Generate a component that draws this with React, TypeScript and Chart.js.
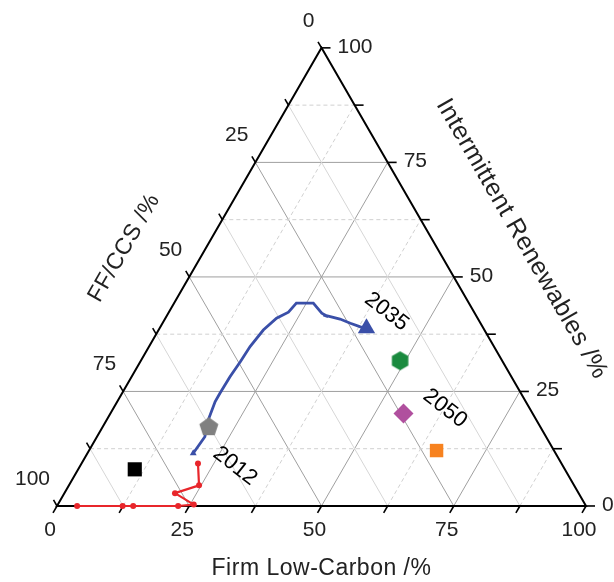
import React, { useEffect, useRef } from 'react';
import { Chart, registerables } from 'chart.js';

Chart.register(...registerables);

// ---- axis ticks ----
const majorTicks = [0, 25, 50, 75, 100];
const minorTicks = [12.5, 37.5, 62.5, 87.5];
const majorTickLabels = ['0', '25', '50', '75', '100'];

const bottomTitle = 'Firm Low-Carbon /%';
const leftTitle = 'FF/CCS /%';
const rightTitle = 'Intermittent Renewables /%';

// ---- red series (firm low-carbon %, intermittent renewables %) ----
const redFirm = [3.8, 12.4, 14.4, 22.9, 25.7, 20.9, 24.6, 22.0];
const redRenew = [0, 0, 0, 0, 0.3, 2.8, 4.5, 9.3];

// ---- blue series ----
const blueFirm = [20.0, 20.4, 19.2, 18.5, 18.5, 18.6, 18.9, 19.1, 19.8, 21.0, 22.6, 23.1, 26.3, 29.0, 30.6, 29.5, 33.1, 35.5, 37.8, 39.1];
const blueRenew = [11.5, 15.1, 18.8, 22.8, 24.6, 28.2, 31.5, 34.8, 38.4, 41.0, 42.3, 44.3, 44.3, 42.1, 41.3, 41.7, 40.8, 39.9, 39.1, 38.8];

// ---- single scenario markers ----
const markerNames = ['Black', 'Grey', 'Green', 'Purple', 'Orange'];
const markerFirm = [10.7, 20.1, 49.0, 55.4, 65.7];
const markerRenew = [8.0, 17.2, 31.7, 20.2, 12.1];

// ---- year annotations ----
const yearLabels = ['2012', '2035', '2050'];
const yearFirm = [29.3, 41.1, 62.7];
const yearRenew = [8.7, 42.4, 21.3];

const SQ = Math.sqrt(3) / 2;
const toXY = (f: number, r: number) => ({ x: f + r / 2, y: r * SQ });

function polyCanvas(sides: number, radius: number, color: string, rot: number) {
  const c = document.createElement('canvas');
  const s = Math.ceil(radius * 2 + 2);
  c.width = s;
  c.height = s;
  const ctx = c.getContext('2d')!;
  ctx.fillStyle = color;
  ctx.beginPath();
  for (let i = 0; i < sides; i++) {
    const a = rot + (i * 2 * Math.PI) / sides;
    const px = s / 2 + radius * Math.sin(a);
    const py = s / 2 - radius * Math.cos(a);
    if (i === 0) ctx.moveTo(px, py);
    else ctx.lineTo(px, py);
  }
  ctx.closePath();
  ctx.fill();
  return c;
}

const FONT = '"Liberation Sans", Arial, Helvetica, sans-serif';

const ternaryPlugin = {
  id: 'ternary',
  beforeDatasetsDraw(chart: any) {
    const ctx = chart.ctx as CanvasRenderingContext2D;
    const xs = chart.scales.x;
    const ys = chart.scales.y;
    const P = (f: number, r: number) => {
      const p = toXY(f, r);
      return [xs.getPixelForValue(p.x), ys.getPixelForValue(p.y)];
    };
    const line = (a: number[], b: number[]) => {
      ctx.beginPath();
      ctx.moveTo(a[0], a[1]);
      ctx.lineTo(b[0], b[1]);
      ctx.stroke();
    };
    ctx.save();
    // grid
    const inner = [...majorTicks.slice(1, -1), ...minorTicks];
    inner.forEach((v) => {
      const major = majorTicks.includes(v);
      ctx.lineWidth = 1;
      ctx.strokeStyle = major ? '#9f9f9f' : '#d0d0d0';
      ctx.setLineDash(major ? [] : [4, 3]);
      line(P(0, v), P(100 - v, v));
      line(P(v, 0), P(v, 100 - v));
      ctx.setLineDash([]);
      ctx.strokeStyle = major ? '#9f9f9f' : '#d6d6d6';
      line(P(100 - v, 0), P(0, 100 - v));
    });
    ctx.setLineDash([]);
    // triangle
    ctx.strokeStyle = '#000';
    ctx.lineWidth = 2;
    ctx.beginPath();
    const A = P(0, 0), B = P(100, 0), C = P(0, 100);
    ctx.moveTo(A[0], A[1]);
    ctx.lineTo(B[0], B[1]);
    ctx.lineTo(C[0], C[1]);
    ctx.closePath();
    ctx.stroke();
    // ticks
    ctx.lineWidth = 1.6;
    const all = [...majorTicks, ...minorTicks];
    all.forEach((v) => {
      const b = P(v, 0);
      line(b, [b[0] - 0.5 * 8, b[1] + SQ * 8]);
      const r = P(100 - v, v);
      line(r, [r[0] + 9, r[1]]);
      const l = P(0, 100 - v);
      line(l, [l[0] - 0.5 * 7, l[1] - SQ * 7]);
    });
    // tick labels
    ctx.fillStyle = '#222';
    ctx.font = `21px ${FONT}`;
    ctx.textBaseline = 'middle';
    majorTicks.forEach((v, i) => {
      const b = P(v, 0);
      ctx.textAlign = 'center';
      ctx.fillText(majorTickLabels[i], b[0] - 7, b[1] + 24);
      const r = P(100 - v, v);
      ctx.textAlign = 'left';
      ctx.fillText(majorTickLabels[i], r[0] + 16, r[1] - 1);
      const l = P(0, 100 - v);
      ctx.textAlign = 'right';
      ctx.fillText(majorTickLabels[i], l[0] - 7, l[1] - 27);
    });
    // axis titles
    ctx.font = `23px ${FONT}`;
    try { (ctx as any).letterSpacing = '0.5px'; } catch (e) {}
    ctx.textAlign = 'center';
    ctx.textBaseline = 'middle';
    const bm = P(50, 0);
    ctx.fillText(bottomTitle, bm[0], bm[1] + 63);
    const lm = P(0, 50);
    ctx.save();
    ctx.translate(lm[0] - 65, lm[1] - 29);
    ctx.rotate(-Math.PI / 3);
    ctx.fillText(leftTitle, 0, 0);
    ctx.restore();
    const rm = P(50, 50);
    ctx.save();
    ctx.font = `25px ${FONT}`;
    ctx.translate(rm[0] + 68, rm[1] - 38);
    ctx.rotate(Math.PI / 3);
    ctx.fillText(rightTitle, 0, 0);
    ctx.restore();
    try { (ctx as any).letterSpacing = '0px'; } catch (e) {}
    // year labels
    ctx.font = `22px ${FONT}`;
    ctx.fillStyle = '#000';
    yearLabels.forEach((t, i) => {
      const p = P(yearFirm[i], yearRenew[i]);
      ctx.save();
      ctx.translate(p[0], p[1]);
      ctx.rotate((38 * Math.PI) / 180);
      ctx.fillText(t, 0, 0);
      ctx.restore();
    });
    ctx.restore();
  },
};

export default function App() {
  const ref = useRef<HTMLCanvasElement | null>(null);
  useEffect(() => {
    if (!ref.current) return;
    const pent = polyCanvas(5, 10, '#808080', 0);
    const hex = polyCanvas(6, 9.5, '#1a8a3e', 0);
    const markerStyles: any[] = ['rect', pent, hex, 'rectRot', 'rect'];
    const markerColors = ['#000000', '#808080', '#1a8a3e', '#b0509e', '#f7821f'];
    const markerRadius = [10, 10, 10, 10, 9.5];

    const red = redFirm.map((f, i) => toXY(f, redRenew[i]));
    const blue = blueFirm.map((f, i) => toXY(f, blueRenew[i]));
    const blueRadius = blue.map((_, i) => (i === 0 ? 4 : i === blue.length - 1 ? 10 : 0));

    const datasets: any[] = markerNames.map((n, i) => ({
      label: n,
      data: [toXY(markerFirm[i], markerRenew[i])],
      pointStyle: markerStyles[i],
      pointRadius: markerRadius[i],
      backgroundColor: markerColors[i],
      borderColor: markerColors[i],
      borderWidth: 0,
      showLine: false,
      order: 0,
    }));
    datasets.push({
      label: 'Blue',
      data: blue,
      showLine: true,
      borderColor: '#3a4fa8',
      backgroundColor: '#3a4fa8',
      borderWidth: 2.8,
      pointStyle: 'triangle',
      pointRadius: blueRadius,
      pointBorderWidth: 0,
      order: 1,
    });
    datasets.push({
      label: 'Red',
      data: red,
      showLine: true,
      borderColor: '#e8262b',
      backgroundColor: '#e8262b',
      borderWidth: 2.2,
      pointStyle: 'circle',
      pointRadius: 3,
      pointBorderWidth: 0,
      order: 2,
    });

    const chart = new Chart(ref.current, {
      type: 'scatter',
      data: { datasets },
      options: {
        responsive: false,
        animation: false,
        devicePixelRatio: 1,
        layout: { padding: 0, autoPadding: false },
        plugins: { legend: { display: false }, tooltip: { enabled: false } },
        scales: {
          x: { type: 'linear', min: -10.775, max: 105.29, display: false },
          y: { type: 'linear', min: -14.37, max: 95.65, display: false },
        },
      },
      plugins: [ternaryPlugin],
    } as any);
    return () => chart.destroy();
  }, []);
  return (
    <div style={{ position: 'fixed', left: 0, top: 0, width: 614, height: 582, background: '#fff' }}>
      <canvas ref={ref} width={614} height={582} style={{ width: 614, height: 582 }} />
    </div>
  );
}
